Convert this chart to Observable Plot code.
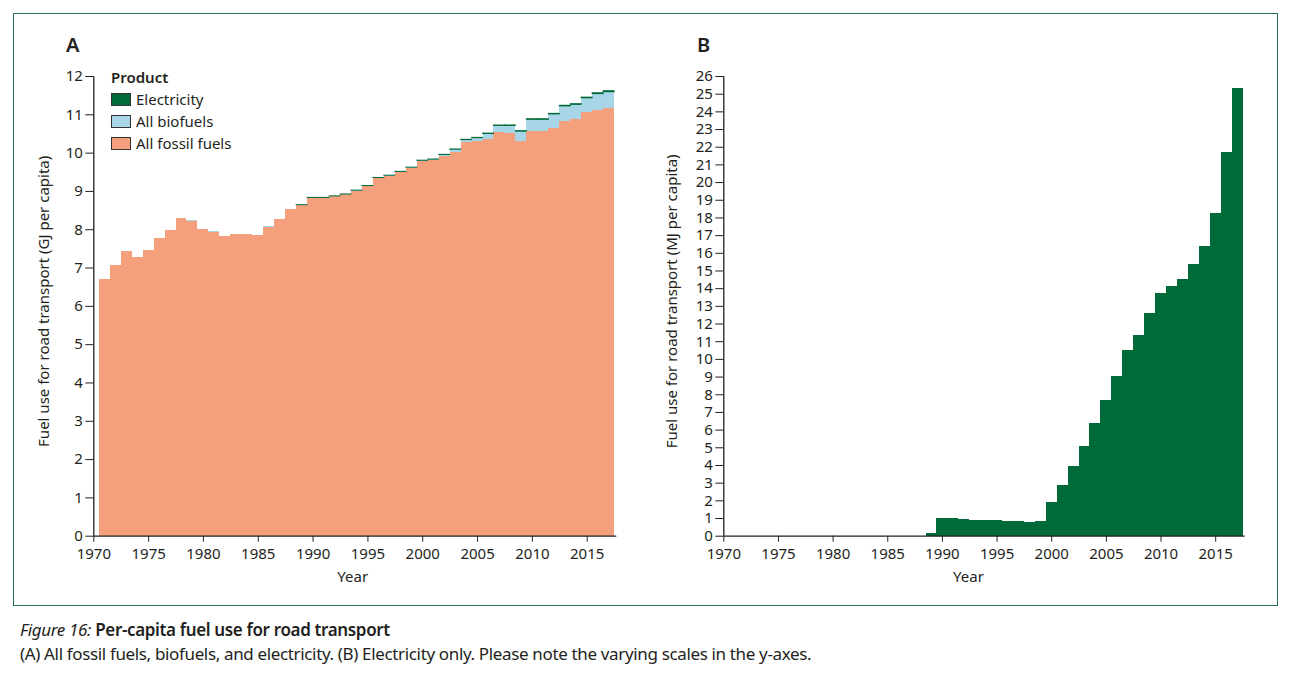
<!DOCTYPE html>
<html><head><meta charset="utf-8">
<script src="https://cdn.jsdelivr.net/npm/d3@7"></script>
<script src="https://cdn.jsdelivr.net/npm/@observablehq/plot@0.6"></script>
<style>
body{margin:0;background:#fff;font-family:"Noto Sans",sans-serif;color:#231f20}
#page{position:relative;width:1291px;height:676px;overflow:hidden;background:#fff}
#frame{position:absolute;left:13px;top:13px;width:1265px;height:593px;border:1.5px solid #2a6f5f;box-sizing:border-box}
.plot{position:absolute;top:60px}
.plot svg text{font-size:15px !important}
.letter{position:absolute;top:31px;font-size:20px;font-weight:600;}
#legend{position:absolute;left:111px;top:66px;font-size:15px;line-height:22px}
#legend .t{font-weight:600;margin-bottom:0px}
#legend .row{display:flex;align-items:center;height:22px}
#legend .sw{width:20px;height:13px;border:1px solid #333;margin-right:5px;box-sizing:border-box}
#cap{position:absolute;left:20px;top:618px;font-family:"Noto Sans",sans-serif;font-size:17px;line-height:24px;letter-spacing:-0.35px}
#cap i{font-style:italic}
</style></head>
<body><div id="page">
<div id="frame"></div>
<div class="letter" style="left:66px">A</div>
<div class="letter" style="left:697px">B</div>
<div id="plotA" class="plot" style="left:20px"></div>
<div id="plotB" class="plot" style="left:650px"></div>
<div id="legend"></div>
<div id="cap"><div><i>Figure 16:</i> <span style="font-weight:600">Per-capita fuel use for road transport</span></div>
<div>(A) All fossil fuels, biofuels, and electricity. (B) Electricity only. Please note the varying scales in the y-axes.</div></div>
</div>
<script>
const years = d3.range(1971, 2018);
const fossil = [6.70,7.07,7.44,7.28,7.46,7.77,7.98,8.30,8.22,8.01,7.94,7.83,7.87,7.88,7.85,8.07,8.27,8.53,8.64,8.82,8.82,8.86,8.91,9.01,9.12,9.33,9.39,9.49,9.60,9.78,9.80,9.90,10.02,10.27,10.31,10.36,10.55,10.50,10.31,10.57,10.57,10.65,10.83,10.88,11.06,11.11,11.17];
const biofuels = [0,0,0,0,0,0,0,0,0.02,0,0.02,0,0.01,0,0,0.01,0,0,0,0.01,0.01,0.01,0.01,0.01,0.02,0.02,0.02,0.02,0.02,0.02,0.03,0.05,0.07,0.07,0.08,0.14,0.16,0.21,0.25,0.30,0.30,0.36,0.39,0.38,0.37,0.43,0.42];
const elecYears = d3.range(1989, 2018);
const electricityMJ = [0.13,0.98,0.98,0.93,0.88,0.88,0.88,0.82,0.82,0.76,0.81,1.88,2.84,3.94,5.10,6.40,7.66,9.06,10.48,11.34,12.62,13.75,14.15,14.54,15.38,16.40,18.27,21.70,25.30];
const products = ["Electricity","All biofuels","All fossil fuels"];
const colors = ["#006a38","#a8d6e8","#f4a07d"];
const xTicks = d3.range(1970, 2016, 5);
const yTicksA = d3.range(0, 13);
const yTicksB = d3.range(0, 27);

const elecByYear = new Map(elecYears.map((y,i)=>[y, electricityMJ[i]]));
const rowsA = [];
years.forEach((y,i)=>{
  const f = fossil[i], b = biofuels[i], e = (elecByYear.get(y)||0)/1000;
  rowsA.push({year:y, product:"All fossil fuels", y1:0, y2:f});
  if (b>0) rowsA.push({year:y, product:"All biofuels", y1:f, y2:f+b});
  if (e>0) rowsA.push({year:y, product:"Electricity", y1:f+b, y2:f+b+e});
});
const rowsB = elecYears.map((y,i)=>({year:y, value:electricityMJ[i]}));

const ink = "#231f20";
const common = {
  width:610, height:540, marginTop:16, marginBottom:64.3, marginLeft:73.3,
  style:{fontFamily:"Noto Sans", fontSize:"15px", color:ink, background:"transparent"}
};
function axes(yTicks, ylabel, yDx, yearDx){
  return [
    Plot.axisX({ticks:xTicks, tickFormat:d=>String(d), tickSize:6, tickPadding:6, fontSize:15, label:null, stroke:ink, fill:ink}),
    Plot.axisY({ticks:yTicks, tickSize:8, tickPadding:3, fontSize:15, label:null, stroke:ink, fill:ink}),
    Plot.ruleY([0], {stroke:ink, strokeWidth:1.3}),
    Plot.ruleX([1970], {stroke:ink, strokeWidth:1.3}),
    Plot.text([ylabel], {text:d=>d, frameAnchor:"left", textAnchor:"middle", rotate:-90, dx:yDx, dy:-5, fontSize:15, fill:ink}),
    Plot.text(["Year"], {text:d=>d, frameAnchor:"bottom", dy:46, dx:yearDx, fontSize:15, fill:ink})
  ];
}

const A = Plot.plot({
  ...common, marginRight:13.7,
  x:{domain:[1970,2017.7]},
  y:{domain:[0,12]},
  color:{domain:products, range:colors},
  marks:[
    Plot.rect(rowsA, {x1:d=>d.year-0.5, x2:d=>d.year+0.5, y1:"y1", y2:"y2", fill:"product", shapeRendering:"crispEdges"}),
    Plot.rect(rowsA.filter(d=>d.product==="Electricity"), {x1:d=>d.year-0.5, x2:d=>d.year+0.5, y1:"y1", y2:"y2", fill:colors[0], stroke:colors[0], strokeWidth:1}),
    ...axes(yTicksA, "Fuel use for road transport (GJ per capita)", -50, -2.6)
  ]
});
document.getElementById("plotA").appendChild(A);

const B = Plot.plot({
  ...common, marginRight:15.3,
  x:{domain:[1970,2017.7]},
  y:{domain:[0,26]},
  marks:[
    Plot.rect(rowsB, {x1:d=>d.year-0.5, x2:d=>d.year+0.5, y1:0, y2:"value", fill:colors[0], shapeRendering:"crispEdges"}),
    ...axes(yTicksB, "Fuel use for road transport (MJ per capita)", -52, -16)
  ]
});
document.getElementById("plotB").appendChild(B);

const lg = document.getElementById("legend");
lg.innerHTML = '<div class="t">Product</div>' + products.map((p,i)=>
  `<div class="row"><div class="sw" style="background:${colors[i]}"></div><span>${p}</span></div>`).join("");
</script>
</body></html>
